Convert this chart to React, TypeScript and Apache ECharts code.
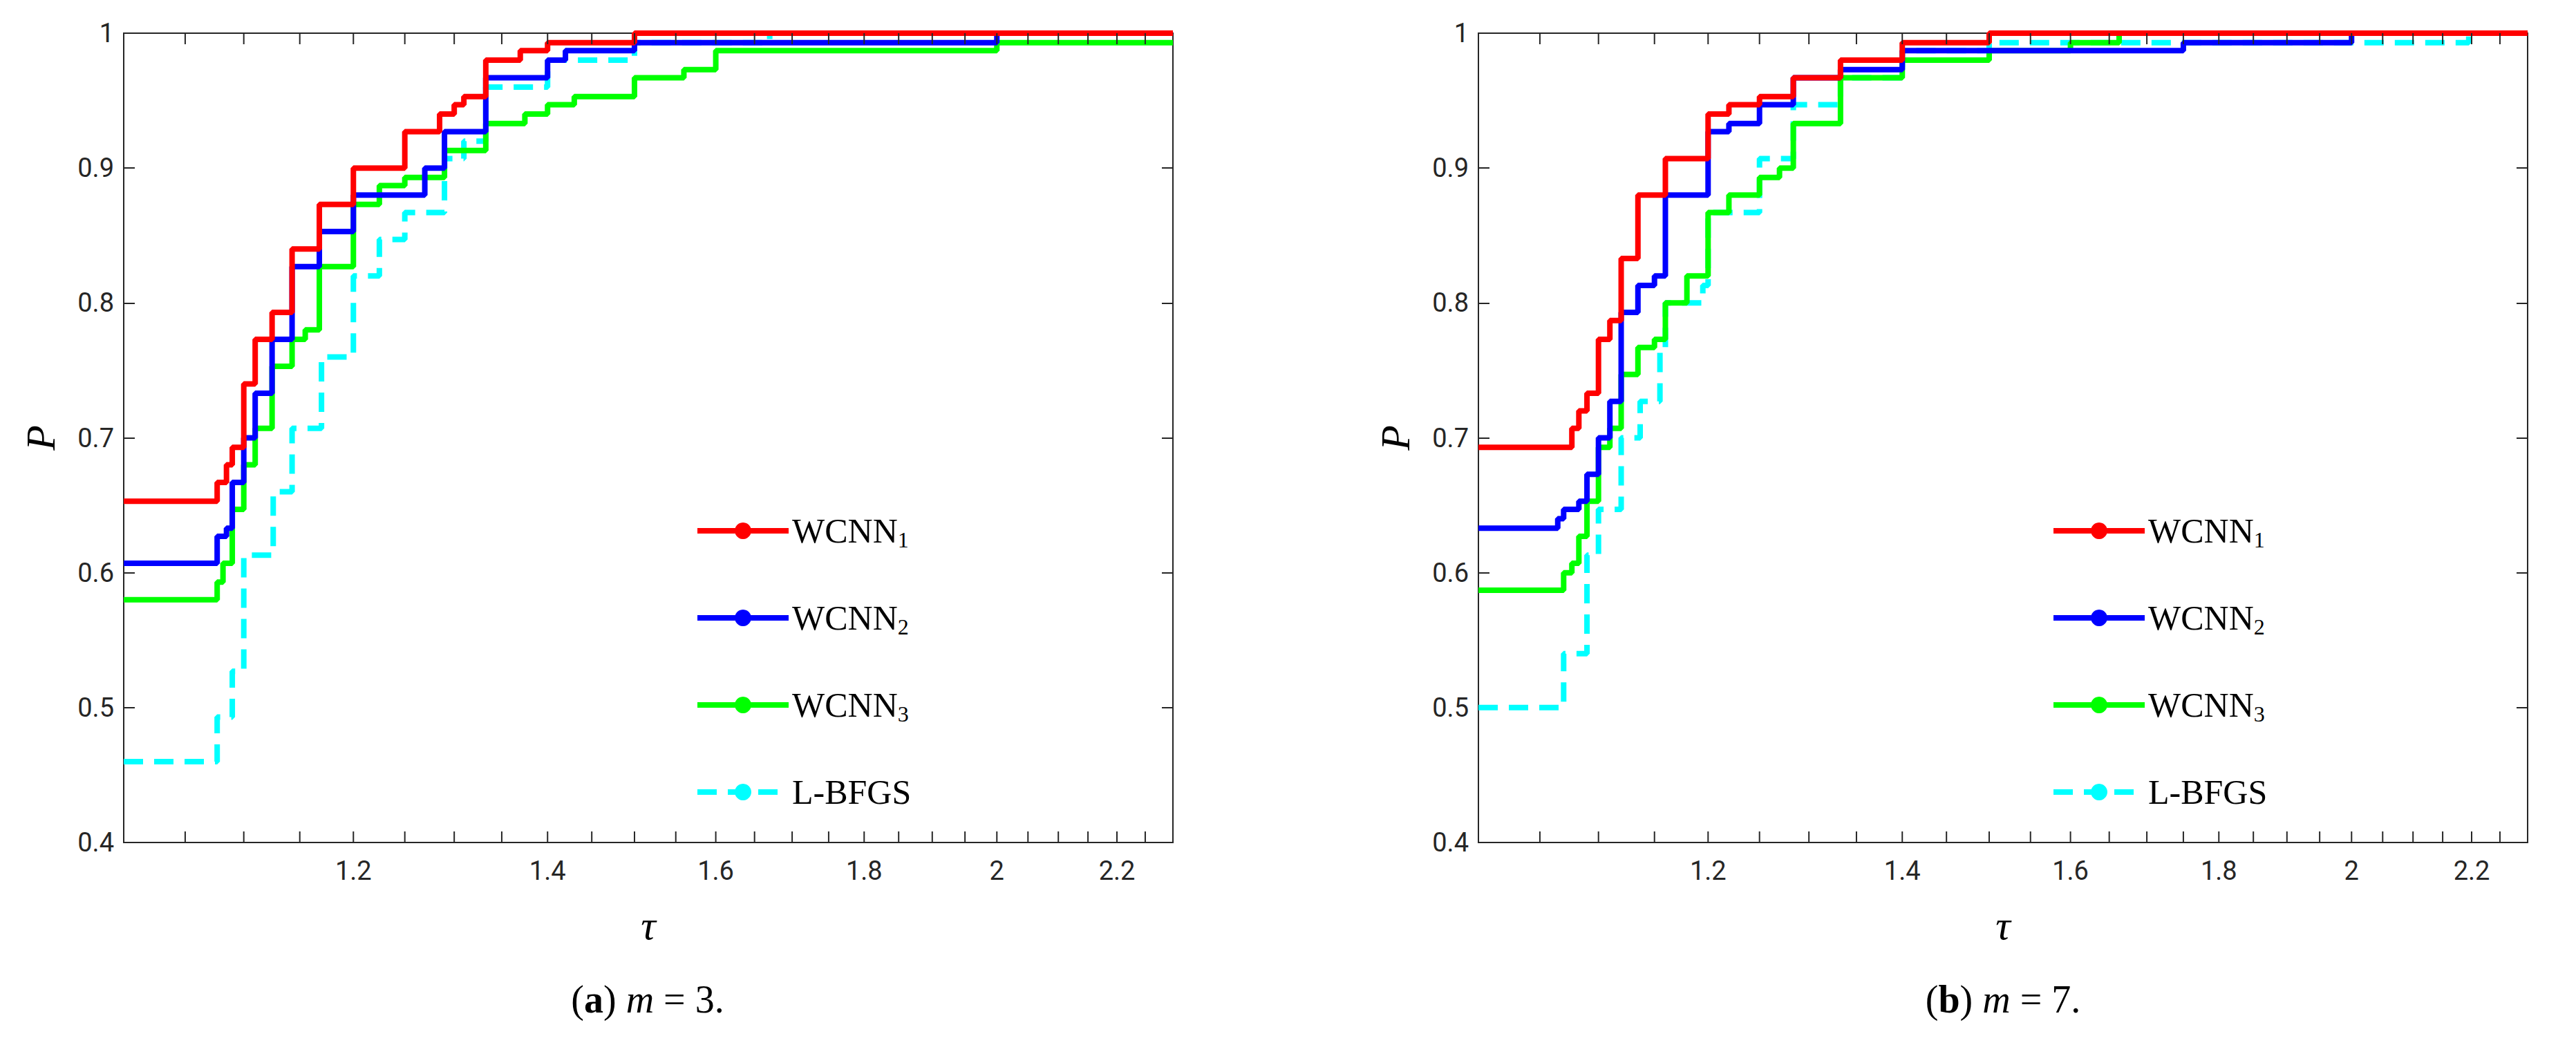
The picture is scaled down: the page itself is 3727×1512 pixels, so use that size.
import React, { useEffect, useRef } from 'react'
import * as echarts from 'echarts'

// (a) m = 3 : [tau, P] step points
const a_wcnn1 = [[1, 0.653], [1.077, 0.667], [1.085, 0.68], [1.09, 0.693], [1.1, 0.74], [1.11, 0.773], [1.125, 0.793], [1.143, 0.84], [1.168, 0.873], [1.2, 0.9], [1.25, 0.927], [1.285, 0.94], [1.3, 0.947], [1.31, 0.953], [1.333, 0.98], [1.37, 0.987], [1.4, 0.993], [1.5, 1.0], [2.3, 1.0]]
const a_wcnn2 = [[1, 0.607], [1.077, 0.627], [1.085, 0.633], [1.09, 0.667], [1.1, 0.7], [1.11, 0.733], [1.125, 0.773], [1.143, 0.827], [1.168, 0.853], [1.2, 0.88], [1.27, 0.9], [1.29, 0.927], [1.333, 0.967], [1.4, 0.98], [1.42, 0.987], [1.5, 0.993], [2, 1.0], [2.3, 1.0]]
const a_wcnn3 = [[1, 0.58], [1.077, 0.593], [1.082, 0.607], [1.09, 0.647], [1.1, 0.68], [1.11, 0.707], [1.125, 0.753], [1.143, 0.773], [1.155, 0.78], [1.168, 0.827], [1.2, 0.873], [1.225, 0.887], [1.25, 0.893], [1.29, 0.913], [1.333, 0.933], [1.375, 0.94], [1.4, 0.947], [1.43, 0.953], [1.5, 0.967], [1.56, 0.973], [1.6, 0.987], [2, 0.993], [2.3, 0.993]]
const a_lbfgs = [[1, 0.46], [1.077, 0.493], [1.09, 0.527], [1.1, 0.613], [1.126, 0.66], [1.143, 0.707], [1.17, 0.76], [1.2, 0.82], [1.225, 0.847], [1.25, 0.867], [1.29, 0.907], [1.31, 0.92], [1.333, 0.96], [1.4, 0.98], [1.5, 0.993], [1.67, 1.0], [2.3, 1.0]]

// (b) m = 7
const b_wcnn1 = [[1, 0.693], [1.077, 0.707], [1.083, 0.72], [1.09, 0.733], [1.1, 0.773], [1.11, 0.787], [1.12, 0.833], [1.135, 0.88], [1.16, 0.907], [1.2, 0.94], [1.22, 0.947], [1.25, 0.953], [1.284, 0.967], [1.333, 0.98], [1.4, 0.993], [1.5, 1.0], [2.3, 1.0]]
const b_wcnn2 = [[1, 0.633], [1.065, 0.64], [1.07, 0.647], [1.083, 0.653], [1.09, 0.673], [1.1, 0.7], [1.11, 0.727], [1.12, 0.793], [1.135, 0.813], [1.15, 0.82], [1.16, 0.88], [1.2, 0.927], [1.22, 0.933], [1.25, 0.947], [1.284, 0.967], [1.333, 0.973], [1.4, 0.987], [1.75, 0.993], [2, 1.0], [2.3, 1.0]]
const b_wcnn3 = [[1, 0.587], [1.07, 0.6], [1.077, 0.607], [1.083, 0.627], [1.09, 0.653], [1.1, 0.693], [1.11, 0.707], [1.12, 0.747], [1.135, 0.767], [1.15, 0.773], [1.16, 0.8], [1.18, 0.82], [1.2, 0.867], [1.22, 0.88], [1.25, 0.893], [1.27, 0.9], [1.284, 0.933], [1.333, 0.967], [1.4, 0.98], [1.5, 0.987], [1.6, 0.993], [1.663, 1.0], [2.3, 1.0]]
const b_lbfgs = [[1, 0.5], [1.07, 0.54], [1.09, 0.613], [1.1, 0.647], [1.12, 0.7], [1.137, 0.727], [1.155, 0.767], [1.16, 0.8], [1.195, 0.813], [1.2, 0.867], [1.25, 0.907], [1.284, 0.947], [1.333, 0.967], [1.4, 0.987], [1.5, 0.993], [2.195, 1.0], [2.3, 1.0]]

const tauTicks = [1.05, 1.1, 1.15, 1.2, 1.25, 1.3, 1.35, 1.4, 1.45, 1.5, 1.55, 1.6, 1.65, 1.7, 1.75, 1.8, 1.85, 1.9, 1.95, 2, 2.05, 2.1, 2.15, 2.2, 2.25]
const tauLabels = ['1.2', '1.4', '1.6', '1.8', '2', '2.2']

const names = ['WCNN1', 'WCNN2', 'WCNN3', 'L-BFGS']
const colors = ['#ff0000', '#0000ff', '#00ff00', '#00ffff']

const grids = [
  { left: 179, top: 48, width: 1518, height: 1171 },
  { left: 2139, top: 48, width: 1518, height: 1171 },
]

const App = () => {
  const chartRef = useRef<HTMLDivElement>(null)

  useEffect(() => {
    const chart = echarts.init(chartRef.current!, null, { renderer: 'svg' })
    const axisFont = { fontFamily: 'Roboto', fontSize: 38, color: '#262626' }
    const sets = [
      [a_wcnn1, a_wcnn2, a_wcnn3, a_lbfgs],
      [b_wcnn1, b_wcnn2, b_wcnn3, b_lbfgs],
    ]
    const series: any[] = []
    sets.forEach((set, g) => {
      set.forEach((d, i) => {
        series.push({
          name: names[i],
          type: 'line',
          step: 'end',
          xAxisIndex: g,
          yAxisIndex: g * 2,
          data: d,
          symbol: 'none',
          showSymbol: false,
          color: colors[i],
          lineStyle: { width: 8, color: colors[i], type: i === 3 ? [28, 16] : 'solid' },
          z: 4 - i,
        })
      })
      series.push({
        type: 'custom',
        xAxisIndex: g,
        yAxisIndex: g * 2,
        data: tauTicks.map((t) => [t, 0.4]),
        clip: false,
        silent: true,
        z: 10,
        renderItem: (params: any, api: any) => {
          const v = api.value(0)
          const pb = api.coord([v, 0.4])
          const pt = api.coord([v, 1])
          const lab = tauLabels.find((l) => Math.abs(parseFloat(l) - v) < 1e-6)
          const children: any[] = [
            { type: 'line', shape: { x1: pb[0], y1: pb[1], x2: pb[0], y2: pb[1] - 16 }, style: { stroke: '#262626', lineWidth: 2 } },
            { type: 'line', shape: { x1: pt[0], y1: pt[1], x2: pt[0], y2: pt[1] + 16 }, style: { stroke: '#262626', lineWidth: 2 } },
          ]
          if (lab) {
            children.push({
              type: 'text',
              x: pb[0],
              y: pb[1] + 22,
              style: { text: lab, textAlign: 'center', textVerticalAlign: 'top', font: '38px Roboto', fill: '#262626' },
            })
          }
          return { type: 'group', children }
        },
      })
    })

    const xAxis = grids.map((_, g) => ({
      type: 'log',
      logBase: 10,
      gridIndex: g,
      min: 1,
      max: 2.3,
      axisLabel: { show: false },
      axisTick: { show: false },
      splitLine: { show: false },
      axisLine: { lineStyle: { color: '#262626', width: 2 } },
      name: 'τ',
      nameLocation: 'middle',
      nameGap: 90,
      nameTextStyle: { fontFamily: 'Liberation Serif', fontStyle: 'italic', fontSize: 60, color: '#000' },
    }))
    const yAxis: any[] = []
    grids.forEach((_, g) => {
      yAxis.push({
        type: 'value',
        gridIndex: g,
        min: 0.4,
        max: 1,
        interval: 0.1,
        axisLine: { show: true, lineStyle: { color: '#262626', width: 2 } },
        axisTick: { inside: true, length: 16, lineStyle: { color: '#262626', width: 2 } },
        axisLabel: { ...axisFont, margin: 14 },
        splitLine: { show: false },
        name: 'P',
        nameLocation: 'middle',
        nameGap: 90,
        nameTextStyle: { fontFamily: 'Liberation Serif', fontStyle: 'italic', fontSize: 60, color: '#000' },
      })
      yAxis.push({
        type: 'value',
        gridIndex: g,
        position: 'right',
        min: 0.4,
        max: 1,
        interval: 0.1,
        axisLine: { show: true, lineStyle: { color: '#262626', width: 2 } },
        axisTick: { inside: true, length: 16, lineStyle: { color: '#262626', width: 2 } },
        axisLabel: { show: false },
        splitLine: { show: false },
      })
    })

    const legendText = {
      fontFamily: 'Liberation Serif',
      fontSize: 50,
      color: '#000',
      rich: { sub: { fontFamily: 'Liberation Serif', fontSize: 32, color: '#000', padding: [26, 0, 0, 0] } },
    }
    const legendFmt = (n: string) => (n.startsWith('WCNN') ? `WCNN{sub|${n.slice(4)}}` : n)
    const legendBase = {
      top: 738,
      orient: 'vertical',
      itemWidth: 132,
      itemHeight: 30,
      itemGap: 72,
      data: names,
      textStyle: legendText,
      formatter: legendFmt,
      selectedMode: false,
      lineStyle: { width: 8 },
    }

    const captionRich = {
      b: { fontFamily: 'Liberation Serif', fontWeight: 'bold', fontSize: 56, color: '#000' },
      i: { fontFamily: 'Liberation Serif', fontStyle: 'italic', fontSize: 56, color: '#000' },
    }

    chart.setOption({
      animation: false,
      backgroundColor: '#fff',
      grid: grids.map((gr) => ({ ...gr, show: true, borderColor: '#262626', borderWidth: 2, backgroundColor: '#fff' })),
      xAxis,
      yAxis,
      legend: [
        { ...legendBase, left: 1000 },
        { ...legendBase, left: 2962 },
      ],
      graphic: [
        { type: 'text', x: 937, y: 1446, style: { text: '({b|a}) {i|m} = 3.', font: '56px "Liberation Serif"', fill: '#000', textAlign: 'center', textVerticalAlign: 'middle', rich: captionRich } },
        { type: 'text', x: 2898, y: 1446, style: { text: '({b|b}) {i|m} = 7.', font: '56px "Liberation Serif"', fill: '#000', textAlign: 'center', textVerticalAlign: 'middle', rich: captionRich } },
      ],
      series,
    })
    return () => {
      chart.dispose()
    }
  }, [])

  return <div style={{ position: 'absolute', left: 0, top: 0, width: '3727px', height: '1512px' }} ref={chartRef}></div>
}

export default App
